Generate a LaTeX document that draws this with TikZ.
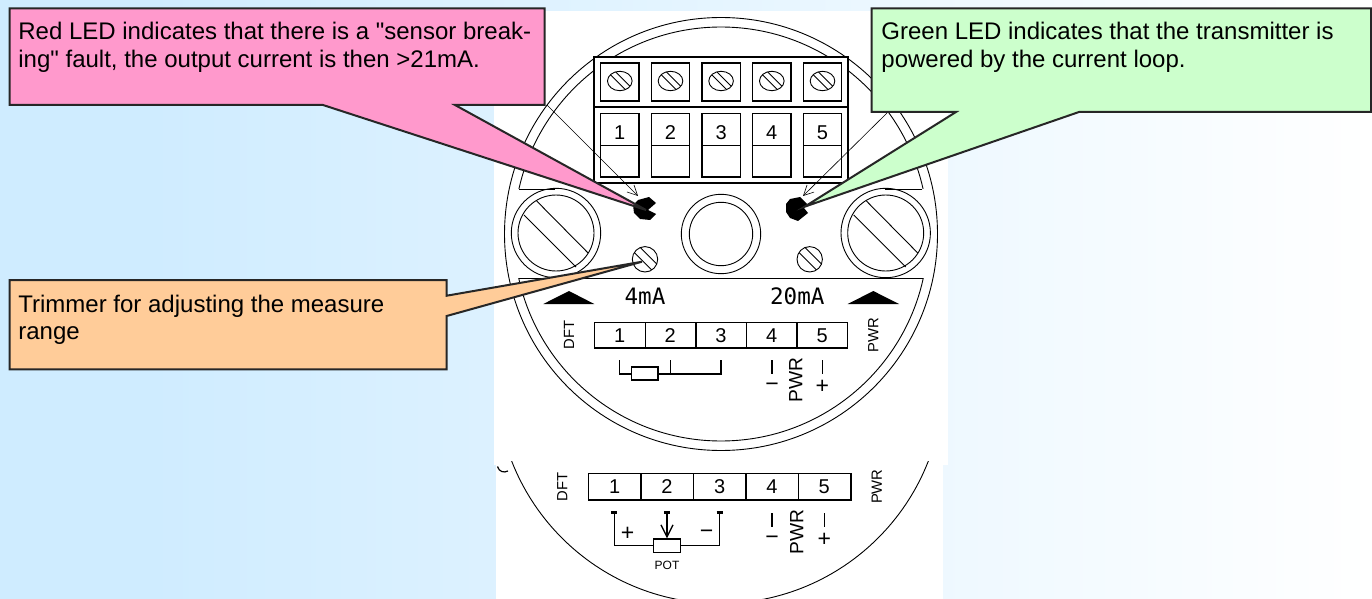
\documentclass[tikz,border=0pt]{standalone}
\usepackage{fontspec}
\setmainfont{Liberation Sans}
\newfontfamily\notefont{Liberation Sans}
\newfontfamily\cadfont{DejaVu Sans Mono}
\usetikzlibrary{arrows.meta}

\definecolor{pagecyan}{HTML}{CFECFF}
\definecolor{notepink}{HTML}{FF99CC}
\definecolor{notegreen}{HTML}{CCFFCC}
\definecolor{noteorange}{HTML}{FFCC99}

\tikzset{
  cadline/.style={line width=0.45pt, black},
  cadbold/.style={line width=0.7pt, black},
  notebox/.style={line width=1pt, draw=black!85, line join=miter},
  notetext/.style={anchor=base west, inner sep=0pt, font=\notefont\fontsize{12}{14}\selectfont},
  digit/.style={inner sep=0pt, font=\fontsize{10}{12}\selectfont},
  cadlabel/.style={inner sep=0pt, font=\fontsize{7.4}{8}\selectfont, rotate=90},
  pwrlabel/.style={inner sep=0pt, font=\fontsize{9.6}{12}\selectfont, rotate=90},
  signlabel/.style={inner sep=0pt, font=\fontsize{11.5}{12}\selectfont},
  marklabel/.style={inner sep=0pt, font=\cadfont\fontsize{11.3}{12}\selectfont},
  ledtip/.style={-{Straight Barb[length=5pt,width=5pt]}, line width=0.3pt, black}
}

\begin{document}
\begin{tikzpicture}[x=0.5pt,y=-0.5pt]

\useasboundingbox (0,0) rectangle (1372,599);

% Page background
\fill[pagecyan] (0,0) rectangle (151,599);
\shade[left color=pagecyan, right color=white] (150,0) rectangle (1372,599);

% White sheets behind the two drawings
\fill[white] (494,11) rectangle (948,465);
\fill[white] (496,465) rectangle (943,599);

% Housing: outer circle, inner circle cut by the two flat lines
\coordinate (C) at (721,234);
\draw[cadline] (C) circle (216.5);
\begin{scope}
  \clip (494,0) rectangle (948,189);
  \draw[cadline] (C) circle (207);
\end{scope}
\begin{scope}
  \clip (494,278) rectangle (948,465);
  \draw[cadline] (C) circle (207);
\end{scope}
\draw[cadline] (519,189) -- (555,189);
\draw[cadline] (885,189) -- (922,189);
\draw[cadline] (519,278) -- (923,278);

% Terminal block
\draw[cadbold, fill=white] (594,57) rectangle (848,183);
\draw[cadbold] (594,107) -- (848,107);
\foreach \i/\xa/\n in {0/600.7/1, 1/651.4/2, 2/702/3, 3/752.7/4, 4/803.4/5} {
  \draw[cadbold] (\xa,63) rectangle +(38.3,38);
  \draw[cadbold] (\xa,113.7) rectangle +(38.3,63.3);
  \draw[cadline] (\xa,145) -- +(38.3,0);
  \node[digit] (top\n) at (\xa+19.1,133) {\n};
  % Screw head
  \begin{scope}
    \clip (\xa+19.1,81) ellipse (12.3 and 9.7);
    \draw[cadline] (\xa+19.1-16,81-13) -- +(24,24);
    \draw[cadline] (\xa+19.1-8,81-13) -- +(24,24);
  \end{scope}
  \draw[cadline] (\xa+19.1,81) ellipse (12.3 and 9.7);
}

% Big screws with slots
\foreach \xs in {556,885.7} {
  \draw[cadline] (\xs,233) circle (44.7);
  \draw[cadline] (\xs,233) circle (38);
  \draw[cadline] (\xs-19.3,201) -- +(51.4,52);
  \draw[cadline] (\xs-32,215) -- +(52,52);
}

% Centre plug
\draw[cadline] (C) circle (39.7);
\draw[cadline] (C) circle (31.7);

% Trimmers
\foreach \xt in {645,809.7} {
  \begin{scope}
    \clip (\xt,259.3) circle (12.7);
    \draw[cadline] (\xt-14,259.3-10) -- +(22,22);
    \draw[cadline] (\xt-7,259.3-14) -- +(22,22);
  \end{scope}
  \draw[cadline] (\xt,259.3) circle (12.7);
}

% LEDs
\fill (638,200) -- (649,197) -- (656,203) -- (648,210) -- (656,214) -- (650,220) -- (640,219) -- (634,213) -- (633,205) -- cycle;
\fill (790,199) -- (800,197) -- (808,205) -- (804,208) -- (808,213) -- (798,221) -- (790,218) -- (786,212) -- (786,204) -- cycle;

% Triangles and scale text
\fill (569,291) -- (594.3,304) -- (543.3,304) -- cycle;
\fill (873.3,291) -- (899,304) -- (847.7,304) -- cycle;
\node[marklabel] (lowmark) at (645,296.7) {4mA};
\node[marklabel] (highmark) at (797.3,296.7) {20mA};

% Upper connection strip
\draw[cadbold] (594.3,322.7) rectangle (847.7,348);
\foreach \xd in {645.3,696,746.3,797} \draw[cadline, line width=0.6pt] (\xd,322.7) -- (\xd,348);
\foreach \xd/\n in {619.7/1,670.3/2,721/3,771.7/4,822.3/5} \node[digit] (mid\n) at (\xd,335.7) {\n};
\node[cadlabel] (dftup) at (569,335) {DFT};
\node[cadlabel] (pwrup) at (873.3,335) {PWR};

% Resistor wiring
\draw[cadline, line width=0.6pt] (619.7,360) -- (619.7,374) -- (631.7,374);
\draw[cadline, line width=0.6pt] (658,374) -- (721,374) -- (721,360);
\draw[cadline, line width=0.6pt] (670.3,360) -- (670.3,374);
\draw[cadbold] (631.7,367) rectangle (658,380);

% Power terminals, upper
\draw[cadline, line width=0.6pt] (772,360) -- (772,374);
\draw[cadline, line width=0.6pt] (822.3,360) -- (822.3,374);
\node[signlabel] (minusup) at (772,387) {\textminus};
\node[pwrlabel] (pwrmidup) at (795.7,380) {PWR};
\node[signlabel] (plusup) at (822.3,387) {+};

% Lower arc of the second drawing
\begin{scope}
  \clip (496,461.7) rectangle (943,599);
  \draw[cadline] (720,380) circle (223.5);
\end{scope}
\draw[cadline, line width=0.6pt] (497.5,466.5) .. controls (499,472) and (504,473) .. (508,471);

% Lower connection strip
\draw[cadline, line width=0.6pt] (588.3,473.7) rectangle (851,500);
\foreach \xd in {641,693.3,746,798.3} \draw[cadline, line width=0.6pt] (\xd,473.7) -- (\xd,500);
\foreach \xd/\n in {614.7/1,667/2,719.7/3,772/4,824.3/5} \node[digit] (low\n) at (\xd,486.7) {\n};
\node[cadlabel] (dftlow) at (562.3,486.7) {DFT};
\node[cadlabel] (pwrlow) at (876.7,486.7) {PWR};

% Potentiometer wiring
\node[draw, cadbold, minimum width=13.5pt, minimum height=6.6pt, inner sep=0pt] (pot) at (667,545.7) {};
\coordinate (potleft) at (614.3,512.3);
\coordinate (potright) at (719.7,512.3);
\coordinate (potwiper) at (667,512.3);
\draw[cadbold] (potleft) -- (614.3,545.7) -- (pot.west);
\draw[cadbold] (potright) -- (719.7,545.7) -- (pot.east);
\draw[cadbold, -{Straight Barb[length=6pt,width=6pt]}] (potwiper) -- (pot.north);
\foreach \xw in {614.3,667,719.7} \draw[line width=1.2pt] (\xw-3,512.3) -- (\xw+3,512.3);
\node[signlabel] (potplus) at (627.7,534) {+};
\node[signlabel] (potminus) at (706.7,534) {\textminus};
\node[inner sep=0pt, font=\fontsize{6}{8}\selectfont] (pottext) at (667,565.3) {POT};

% Power terminals, lower
\draw[cadline, line width=0.6pt] (772,513.3) -- (772,526.7);
\draw[cadline, line width=0.6pt] (824.3,513.3) -- (824.3,526.7);
\node[signlabel] (minuslow) at (772,540) {\textminus};
\node[pwrlabel] (pwrmidlow) at (796.7,532.3) {PWR};
\node[signlabel] (pluslow) at (824.3,540) {+};

% Thin pointers to the LEDs
\coordinate (redstart) at (547,105);
\coordinate (redled) at (638,196);
\coordinate (greenstart) at (887,113);
\coordinate (greenled) at (803,196);
\draw[ledtip] (redstart) -- (redled);
\draw[ledtip] (greenstart) -- (greenled);

% Callouts
\draw[notebox, fill=notepink] (9.5,8.3) -- (544.7,8.3) -- (544.7,105) -- (455,105) -- (646,210) -- (323,105) -- (9.5,105) -- cycle;
\node[notetext] (redline) at (18,39.5) {Red LED indicates that there is a "sensor break-};
\node[notetext] (redlinetwo) at (18,67.3) {ing" fault, the output current is then >21mA.};

\draw[notebox, fill=notegreen] (871.7,8.3) -- (1371,8.3) -- (1371,112) -- (1079,112) -- (804.6,206.7) -- (956,112) -- (871.7,112) -- cycle;
\node[notetext] (greenline) at (881,39.5) {Green LED indicates that the transmitter is};
\node[notetext] (greenlinetwo) at (881,67.3) {powered by the current loop.};

\draw[notebox, fill=noteorange] (9.5,280) -- (446.7,280) -- (446.7,295.7) -- (642,261.7) -- (446.7,316) -- (446.7,369.3) -- (9.5,369.3) -- cycle;
\node[notetext] (trimline) at (18,312) {Trimmer for adjusting the measure};
\node[notetext] (trimlinetwo) at (18,339.5) {range};

\end{tikzpicture}
\end{document}
